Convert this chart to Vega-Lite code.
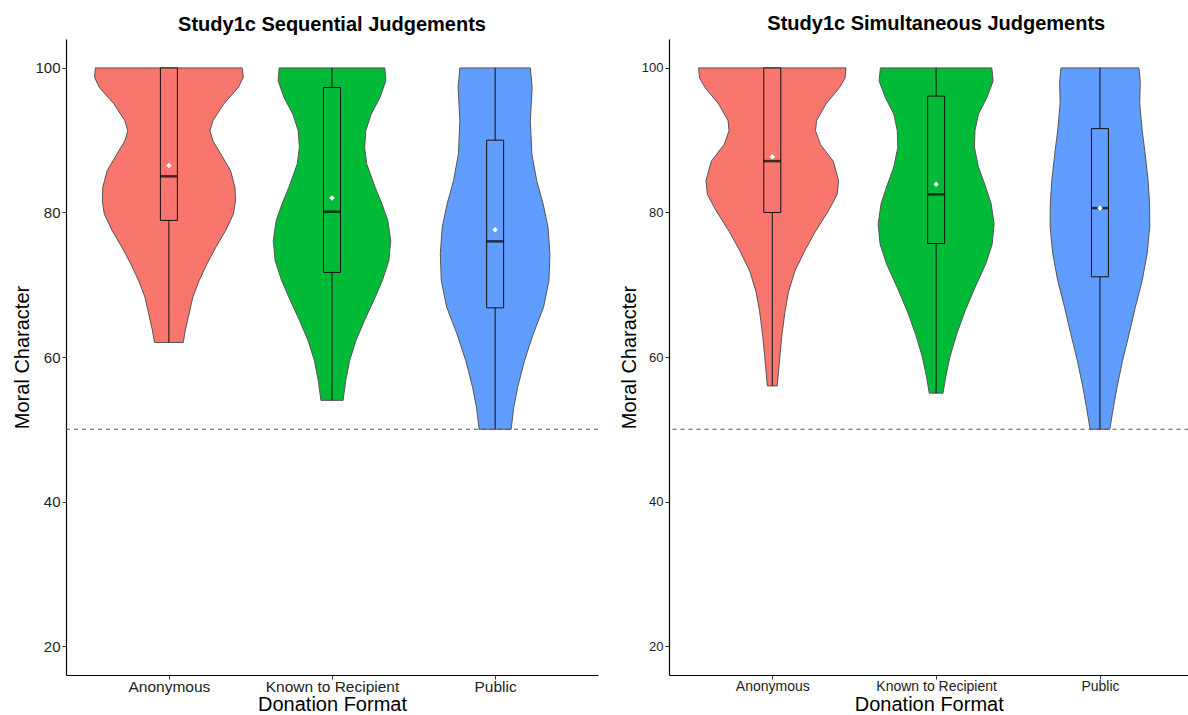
{
  "$schema": "https://vega.github.io/schema/vega-lite/v6.json",
  "padding": {"left": 12, "top": 14, "right": 0, "bottom": 0},
  "background": "white",
  "spacing": 20,
  "config": {
    "view": {"stroke": null},
    "font": "Liberation Sans",
    "axis": {"grid": false, "domainColor": "black", "domainWidth": 1.2, "tickColor": "#333333", "tickSize": 4, "labelColor": "#222222", "labelPadding": 2, "titleColor": "black", "titleFontWeight": "normal", "titleFontSize": 20}
  },
  "datasets": {
    "seqViolin": [
      {"format": "Anonymous", "score": 62.0, "w": 0.088}, {"format": "Anonymous", "score": 63.6, "w": 0.100}, {"format": "Anonymous", "score": 66.0, "w": 0.124}, {"format": "Anonymous", "score": 68.3, "w": 0.147}, {"format": "Anonymous", "score": 70.6, "w": 0.186}, {"format": "Anonymous", "score": 72.9, "w": 0.234}, {"format": "Anonymous", "score": 75.2, "w": 0.288}, {"format": "Anonymous", "score": 77.5, "w": 0.348}, {"format": "Anonymous", "score": 79.8, "w": 0.396}, {"format": "Anonymous", "score": 81.6, "w": 0.408}, {"format": "Anonymous", "score": 83.5, "w": 0.405}, {"format": "Anonymous", "score": 85.8, "w": 0.378}, {"format": "Anonymous", "score": 88.1, "w": 0.318}, {"format": "Anonymous", "score": 89.9, "w": 0.270}, {"format": "Anonymous", "score": 91.3, "w": 0.252}, {"format": "Anonymous", "score": 92.7, "w": 0.270}, {"format": "Anonymous", "score": 95.0, "w": 0.336}, {"format": "Anonymous", "score": 97.3, "w": 0.426}, {"format": "Anonymous", "score": 98.7, "w": 0.456}, {"format": "Anonymous", "score": 100, "w": 0.450},
      {"format": "Known to Recipient", "score": 54.0, "w": 0.068}, {"format": "Known to Recipient", "score": 56.7, "w": 0.084}, {"format": "Known to Recipient", "score": 59.5, "w": 0.108}, {"format": "Known to Recipient", "score": 62.3, "w": 0.147}, {"format": "Known to Recipient", "score": 65.0, "w": 0.198}, {"format": "Known to Recipient", "score": 67.8, "w": 0.255}, {"format": "Known to Recipient", "score": 70.6, "w": 0.309}, {"format": "Known to Recipient", "score": 73.3, "w": 0.348}, {"format": "Known to Recipient", "score": 76.1, "w": 0.360}, {"format": "Known to Recipient", "score": 78.9, "w": 0.342}, {"format": "Known to Recipient", "score": 81.2, "w": 0.306}, {"format": "Known to Recipient", "score": 83.5, "w": 0.264}, {"format": "Known to Recipient", "score": 86.7, "w": 0.213}, {"format": "Known to Recipient", "score": 89.0, "w": 0.200}, {"format": "Known to Recipient", "score": 91.3, "w": 0.207}, {"format": "Known to Recipient", "score": 93.6, "w": 0.240}, {"format": "Known to Recipient", "score": 95.9, "w": 0.294}, {"format": "Known to Recipient", "score": 98.2, "w": 0.330}, {"format": "Known to Recipient", "score": 100, "w": 0.324},
      {"format": "Public", "score": 50.0, "w": 0.098}, {"format": "Public", "score": 53.0, "w": 0.114}, {"format": "Public", "score": 55.8, "w": 0.138}, {"format": "Public", "score": 59.5, "w": 0.180}, {"format": "Public", "score": 63.2, "w": 0.234}, {"format": "Public", "score": 66.9, "w": 0.297}, {"format": "Public", "score": 70.6, "w": 0.330}, {"format": "Public", "score": 74.3, "w": 0.336}, {"format": "Public", "score": 78.0, "w": 0.324}, {"format": "Public", "score": 81.2, "w": 0.294}, {"format": "Public", "score": 84.4, "w": 0.255}, {"format": "Public", "score": 88.1, "w": 0.225}, {"format": "Public", "score": 92.7, "w": 0.216}, {"format": "Public", "score": 97.3, "w": 0.227}, {"format": "Public", "score": 100, "w": 0.216}
    ],
    "simViolin": [
      {"format": "Anonymous", "score": 56.0, "w": 0.030}, {"format": "Anonymous", "score": 59.0, "w": 0.042}, {"format": "Anonymous", "score": 62.7, "w": 0.057}, {"format": "Anonymous", "score": 66.4, "w": 0.078}, {"format": "Anonymous", "score": 69.1, "w": 0.100}, {"format": "Anonymous", "score": 71.9, "w": 0.138}, {"format": "Anonymous", "score": 74.7, "w": 0.198}, {"format": "Anonymous", "score": 77.4, "w": 0.264}, {"format": "Anonymous", "score": 80.2, "w": 0.342}, {"format": "Anonymous", "score": 82.5, "w": 0.396}, {"format": "Anonymous", "score": 84.4, "w": 0.405}, {"format": "Anonymous", "score": 87.1, "w": 0.372}, {"format": "Anonymous", "score": 89.4, "w": 0.294}, {"format": "Anonymous", "score": 91.3, "w": 0.264}, {"format": "Anonymous", "score": 92.7, "w": 0.270}, {"format": "Anonymous", "score": 95.0, "w": 0.327}, {"format": "Anonymous", "score": 97.3, "w": 0.411}, {"format": "Anonymous", "score": 98.6, "w": 0.444}, {"format": "Anonymous", "score": 100, "w": 0.450},
      {"format": "Known to Recipient", "score": 55.0, "w": 0.042}, {"format": "Known to Recipient", "score": 57.2, "w": 0.058}, {"format": "Known to Recipient", "score": 60.0, "w": 0.084}, {"format": "Known to Recipient", "score": 63.2, "w": 0.126}, {"format": "Known to Recipient", "score": 66.4, "w": 0.177}, {"format": "Known to Recipient", "score": 69.6, "w": 0.237}, {"format": "Known to Recipient", "score": 72.9, "w": 0.303}, {"format": "Known to Recipient", "score": 75.6, "w": 0.342}, {"format": "Known to Recipient", "score": 78.4, "w": 0.354}, {"format": "Known to Recipient", "score": 81.2, "w": 0.336}, {"format": "Known to Recipient", "score": 83.5, "w": 0.303}, {"format": "Known to Recipient", "score": 86.3, "w": 0.258}, {"format": "Known to Recipient", "score": 89.0, "w": 0.234}, {"format": "Known to Recipient", "score": 91.3, "w": 0.237}, {"format": "Known to Recipient", "score": 93.6, "w": 0.258}, {"format": "Known to Recipient", "score": 95.9, "w": 0.310}, {"format": "Known to Recipient", "score": 98.2, "w": 0.348}, {"format": "Known to Recipient", "score": 100, "w": 0.340},
      {"format": "Public", "score": 50.0, "w": 0.060}, {"format": "Public", "score": 53.0, "w": 0.082}, {"format": "Public", "score": 55.8, "w": 0.104}, {"format": "Public", "score": 59.5, "w": 0.138}, {"format": "Public", "score": 63.2, "w": 0.178}, {"format": "Public", "score": 66.9, "w": 0.216}, {"format": "Public", "score": 70.6, "w": 0.258}, {"format": "Public", "score": 74.3, "w": 0.288}, {"format": "Public", "score": 78.0, "w": 0.304}, {"format": "Public", "score": 81.2, "w": 0.303}, {"format": "Public", "score": 84.4, "w": 0.294}, {"format": "Public", "score": 88.1, "w": 0.276}, {"format": "Public", "score": 91.3, "w": 0.258}, {"format": "Public", "score": 95.0, "w": 0.243}, {"format": "Public", "score": 98.2, "w": 0.246}, {"format": "Public", "score": 100, "w": 0.238}
    ],
    "seqBox": [
      {"format": "Anonymous", "lower": 62, "q1": 78.9, "median": 85.0, "q3": 100, "upper": 100, "mean": 86.5},
      {"format": "Known to Recipient", "lower": 54, "q1": 71.7, "median": 80.1, "q3": 97.3, "upper": 100, "mean": 82.0},
      {"format": "Public", "lower": 50, "q1": 66.8, "median": 76.0, "q3": 90.0, "upper": 100, "mean": 77.6}
    ],
    "simBox": [
      {"format": "Anonymous", "lower": 56, "q1": 80.0, "median": 87.1, "q3": 100, "upper": 100, "mean": 87.7},
      {"format": "Known to Recipient", "lower": 55, "q1": 75.7, "median": 82.5, "q3": 96.1, "upper": 100, "mean": 83.9},
      {"format": "Public", "lower": 50, "q1": 71.1, "median": 80.6, "q3": 91.6, "upper": 100, "mean": 80.6}
    ],
    "refLine": [{"ref": 50}]
  },
  "hconcat": [
    {
      "width": 532,
      "height": 636,
      "title": {"text": "Study1c Sequential Judgements", "fontSize": 20, "fontWeight": "bold", "anchor": "middle", "offset": 4, "color": "black"},
      "layer": [
        {
          "data": {"name": "seqViolin"},
          "transform": [
            {"calculate": "indexof(['Anonymous','Known to Recipient','Public'], datum.format) + 1", "as": "pos"},
            {"calculate": "datum.pos - datum.w", "as": "xlo"},
            {"calculate": "datum.pos + datum.w", "as": "xhi"}
          ],
          "mark": {"type": "area", "orient": "horizontal", "stroke": "#555555", "strokeWidth": 1, "opacity": 1},
          "encoding": {
            "y": {"field": "score", "type": "quantitative", "title": "Moral Character", "scale": {"domain": [16, 104], "nice": false, "zero": false},
                  "axis": {"values": [20, 40, 60, 80, 100], "labelFontSize": 15, "titlePadding": 2.5}},
            "x": {"field": "xlo", "type": "quantitative", "title": "Donation Format", "scale": {"domain": [0.4, 3.6], "nice": false, "zero": false},
                  "axis": {"values": [1, 2, 3], "labelExpr": "datum.value == 1 ? 'Anonymous' : datum.value == 2 ? 'Known to Recipient' : 'Public'", "labelFontSize": 15.5, "labelPadding": 0, "titlePadding": 0}},
            "x2": {"field": "xhi"},
            "color": {"field": "format", "type": "nominal", "scale": {"domain": ["Anonymous", "Known to Recipient", "Public"], "range": ["#F8766D", "#00BA38", "#619CFF"]}, "legend": null}
          }
        },
        {
          "data": {"name": "refLine"},
          "mark": {"type": "rule", "strokeDash": [4, 4], "color": "#555555", "strokeWidth": 1.2},
          "encoding": {"y": {"field": "ref", "type": "quantitative", "title": "Moral Character"}}
        },
        {
          "data": {"name": "seqBox"},
          "transform": [{"calculate": "indexof(['Anonymous','Known to Recipient','Public'], datum.format) + 1", "as": "pos"}],
          "mark": {"type": "rule", "color": "#111111", "strokeWidth": 1},
          "encoding": {
            "x": {"field": "pos", "type": "quantitative", "title": "Donation Format"},
            "y": {"field": "lower", "type": "quantitative", "title": "Moral Character"},
            "y2": {"field": "upper"}
          }
        },
        {
          "data": {"name": "seqBox"},
          "transform": [{"calculate": "indexof(['Anonymous','Known to Recipient','Public'], datum.format) + 1", "as": "pos"}],
          "mark": {"type": "bar", "width": 17, "stroke": "#111111", "strokeWidth": 1},
          "encoding": {
            "x": {"field": "pos", "type": "quantitative", "title": "Donation Format"},
            "y": {"field": "q1", "type": "quantitative", "title": "Moral Character"},
            "y2": {"field": "q3"},
            "color": {"field": "format", "type": "nominal", "legend": null}
          }
        },
        {
          "data": {"name": "seqBox"},
          "transform": [{"calculate": "indexof(['Anonymous','Known to Recipient','Public'], datum.format) + 1", "as": "pos"}],
          "mark": {"type": "tick", "orient": "horizontal", "size": 17, "thickness": 2.5, "color": "black"},
          "encoding": {
            "x": {"field": "pos", "type": "quantitative", "title": "Donation Format"},
            "y": {"field": "median", "type": "quantitative", "title": "Moral Character"}
          }
        },
        {
          "data": {"name": "seqBox"},
          "transform": [{"calculate": "indexof(['Anonymous','Known to Recipient','Public'], datum.format) + 1", "as": "pos"}],
          "mark": {"type": "point", "shape": "diamond", "filled": true, "color": "white", "opacity": 1, "size": 30},
          "encoding": {
            "x": {"field": "pos", "type": "quantitative", "title": "Donation Format"},
            "y": {"field": "mean", "type": "quantitative", "title": "Moral Character"}
          }
        }
      ]
    },
    {
      "width": 519.5,
      "height": 636,
      "title": {"text": "Study1c Simultaneous Judgements", "fontSize": 20, "fontWeight": "bold", "anchor": "middle", "offset": 5, "dx": 7.5, "color": "black"},
      "layer": [
        {
          "data": {"name": "simViolin"},
          "transform": [
            {"calculate": "indexof(['Anonymous','Known to Recipient','Public'], datum.format) + 1", "as": "pos"},
            {"calculate": "datum.pos - datum.w", "as": "xlo"},
            {"calculate": "datum.pos + datum.w", "as": "xhi"}
          ],
          "mark": {"type": "area", "orient": "horizontal", "stroke": "#555555", "strokeWidth": 1, "opacity": 1},
          "encoding": {
            "y": {"field": "score", "type": "quantitative", "title": "Moral Character", "scale": {"domain": [16, 104], "nice": false, "zero": false},
                  "axis": {"values": [20, 40, 60, 80, 100], "labelFontSize": 13, "titlePadding": 2}},
            "x": {"field": "xlo", "type": "quantitative", "title": "Donation Format", "scale": {"domain": [0.4, 3.51], "nice": false, "zero": false},
                  "axis": {"values": [1, 2, 3], "labelExpr": "datum.value == 1 ? 'Anonymous' : datum.value == 2 ? 'Known to Recipient' : 'Public'", "labelFontSize": 14, "labelPadding": 0, "titlePadding": 1.5}},
            "x2": {"field": "xhi"},
            "color": {"field": "format", "type": "nominal", "scale": {"domain": ["Anonymous", "Known to Recipient", "Public"], "range": ["#F8766D", "#00BA38", "#619CFF"]}, "legend": null}
          }
        },
        {
          "data": {"name": "refLine"},
          "mark": {"type": "rule", "strokeDash": [4, 4], "color": "#555555", "strokeWidth": 1.2},
          "encoding": {"y": {"field": "ref", "type": "quantitative", "title": "Moral Character"}}
        },
        {
          "data": {"name": "simBox"},
          "transform": [{"calculate": "indexof(['Anonymous','Known to Recipient','Public'], datum.format) + 1", "as": "pos"}],
          "mark": {"type": "rule", "color": "#111111", "strokeWidth": 1},
          "encoding": {
            "x": {"field": "pos", "type": "quantitative", "title": "Donation Format"},
            "y": {"field": "lower", "type": "quantitative", "title": "Moral Character"},
            "y2": {"field": "upper"}
          }
        },
        {
          "data": {"name": "simBox"},
          "transform": [{"calculate": "indexof(['Anonymous','Known to Recipient','Public'], datum.format) + 1", "as": "pos"}],
          "mark": {"type": "bar", "width": 17, "stroke": "#111111", "strokeWidth": 1},
          "encoding": {
            "x": {"field": "pos", "type": "quantitative", "title": "Donation Format"},
            "y": {"field": "q1", "type": "quantitative", "title": "Moral Character"},
            "y2": {"field": "q3"},
            "color": {"field": "format", "type": "nominal", "legend": null}
          }
        },
        {
          "data": {"name": "simBox"},
          "transform": [{"calculate": "indexof(['Anonymous','Known to Recipient','Public'], datum.format) + 1", "as": "pos"}],
          "mark": {"type": "tick", "orient": "horizontal", "size": 17, "thickness": 2.5, "color": "black"},
          "encoding": {
            "x": {"field": "pos", "type": "quantitative", "title": "Donation Format"},
            "y": {"field": "median", "type": "quantitative", "title": "Moral Character"}
          }
        },
        {
          "data": {"name": "simBox"},
          "transform": [{"calculate": "indexof(['Anonymous','Known to Recipient','Public'], datum.format) + 1", "as": "pos"}],
          "mark": {"type": "point", "shape": "diamond", "filled": true, "color": "white", "opacity": 1, "size": 30},
          "encoding": {
            "x": {"field": "pos", "type": "quantitative", "title": "Donation Format"},
            "y": {"field": "mean", "type": "quantitative", "title": "Moral Character"}
          }
        }
      ]
    }
  ]
}
